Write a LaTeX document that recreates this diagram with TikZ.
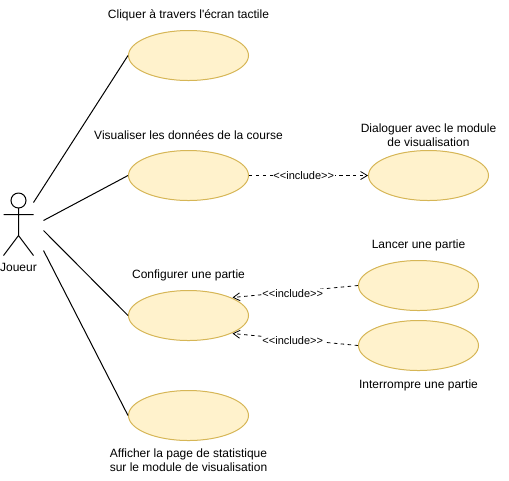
\documentclass[tikz,border=0pt]{standalone}
\usepackage{fontspec}
\newfontfamily\plainsans{Liberation Sans}
\usetikzlibrary{arrows.meta,shapes.geometric}
\definecolor{uc}{HTML}{FFF2CC}
\definecolor{ucb}{HTML}{D6B656}
\tikzset{
 case/.style={ellipse,draw=ucb,fill=uc,line width=0.75pt,minimum width=90pt,minimum height=37.5pt,inner sep=0pt},
 lab/.style={font=\plainsans\fontsize{9}{10.5}\selectfont,align=center,inner sep=0pt,text=black,yshift=-0.35pt},
 assoc/.style={line width=0.75pt,black},
 inc/.style={line width=0.6pt,black,dash pattern=on 2.6pt off 2.6pt,-{Straight Barb[length=5pt,width=6pt]}},
 inclab/.style={font=\plainsans\fontsize{8.25}{9}\selectfont,fill=white,inner sep=0.6pt,text=black}}
\begin{document}
\begin{tikzpicture}[x=0.75pt,y=-0.75pt]
\useasboundingbox (-0.5,-0.5) rectangle (508.5,479.5);
\node[case] (a) at (188,55) {};
\node[case] (b) at (188,175) {};
\node[case] (c) at (428,175) {};
\node[case] (d) at (188,315) {};
\node[case] (e) at (418,285) {};
\node[case] (f) at (418,345) {};
\node[case] (g) at (188,415) {};
\node[lab] (la) at (188,14) {Cliquer à travers l'écran tactile};
\node[lab] (lb) at (188,134) {Visualiser les données de la course};
\node[lab] (lc) at (428,134.5) {Dialoguer avec le module\\de visualisation};
\node[lab] (ld) at (188,274) {Configurer une partie};
\node[lab] (le) at (418,244) {Lancer une partie};
\node[lab] (lf) at (418,384) {Interrompre une partie};
\node[lab] (lg) at (188,459) {Afficher la page de statistique\\sur le module de visualisation};
\node[lab] (lj) at (18,266) {Joueur};
\draw[assoc] (18,200) circle (7.5);
\coordinate (neck) at (18,207.5);
\coordinate (hip) at (18,235);
\coordinate (al) at (3,214);
\coordinate (ar) at (33,214);
\coordinate (fl) at (3,255);
\coordinate (fr) at (33,255);
\draw[assoc] (neck) -- (hip) (al) -- (ar) (fl) -- (hip) -- (fr);
\coordinate (j1) at (33,202);
\coordinate (j2) at (43,220);
\coordinate (j3) at (43,230);
\coordinate (j4) at (43,250);
\draw[assoc] (j1) -- (a.west);
\draw[assoc] (j2) -- (b.west);
\draw[assoc] (j3) -- (d.west);
\draw[assoc] (j4) -- (g.west);
\coordinate (d1) at (232,297);
\coordinate (d2) at (232,333);
\draw[inc] (b.east) -- node[inclab,pos=0.46] (i1) {<<include>>} (c.west);
\draw[inc] (e.west) -- node[inclab,pos=0.52,yshift=-1.3pt] (i2) {<<include>>} (d1);
\draw[inc] (f.west) -- node[inclab,pos=0.52,yshift=-1.1pt] (i3) {<<include>>} (d2);
\end{tikzpicture}
\end{document}
